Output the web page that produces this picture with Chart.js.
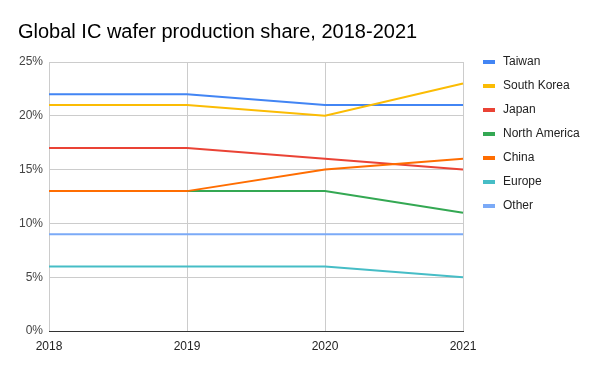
<!DOCTYPE html>
<html><head><meta charset="utf-8">
<script src="https://cdn.jsdelivr.net/npm/chart.js@4/dist/chart.umd.min.js"></script>
<style>html,body{margin:0;padding:0;background:#fff}#wrap{width:600px;height:371px}</style>
</head><body><div id="wrap"><canvas id="c" width="600" height="371"></canvas></div>
<script>
const years = ["2018","2019","2020","2021"];
const seriesNames = ["Taiwan","South Korea","Japan","North America","China","Europe","Other"];
const taiwan = [22,22,21,21];
const southKorea = [21,21,20,23];
const japan = [17,17,16,15];
const northAmerica = [13,13,13,11];
const china = [13,13,15,16];
const europe = [6,6,6,5];
const other = [9,9,9,9];
const seriesValues = [taiwan,southKorea,japan,northAmerica,china,europe,other];
const colors = ["#4285F4","#FBBC04","#EA4335","#34A853","#FF6D01","#46BDC6","#7BAAF7"];
const FONT = "'Liberation Sans', Arial, sans-serif";

const legendPlugin = {
  id:'customLegend',
  afterDraw(chart){
    const ctx = chart.ctx;
    ctx.save();
    ctx.font = "12px " + FONT;
    ctx.textBaseline = 'middle';
    chart.data.datasets.forEach((ds,i)=>{
      const y = 62 + i*24;
      ctx.fillStyle = ds.borderColor;
      ctx.fillRect(483, y-2, 12, 4);
      ctx.fillStyle = '#222';
      ctx.fillText(ds.label, 503, y);
    });
    ctx.restore();
  }
};

new Chart(document.getElementById('c'), {
  type:'line',
  data:{
    labels: years,
    datasets: seriesNames.map((n,i)=>({
      label:n, data:seriesValues[i], borderColor:colors[i], backgroundColor:colors[i],
      borderWidth:2, pointRadius:0, tension:0, order:-i
    }))
  },
  options:{
    responsive:false, animation:false,
    layout:{padding:{left:18,right:137,top:0,bottom:0}},
    plugins:{
      legend:{display:false},
      tooltip:{enabled:false},
      title:{display:true, text:"Global IC wafer production share, 2018-2021", align:'start',
        color:'#000', font:{family:FONT, size:20, weight:'normal'}, padding:{top:20,bottom:18}}
    },
    scales:{
      x:{
        offset:false,
        grid:{color:'#cccccc', drawTicks:false},
        border:{color:'#333333', width:1},
        ticks:{color:'#222', font:{family:FONT,size:12}, padding:8, maxRotation:0},
        afterFit(s){ s.height = 40; }
      },
      y:{
        min:0, max:25,
        grid:{color:'#cccccc', drawTicks:false},
        border:{display:false},
        ticks:{stepSize:5, color:'#444', font:{family:FONT,size:12}, padding:6, callback:v=>v+'%'},
        afterFit(s){ s.width = 31; }
      }
    }
  },
  plugins:[legendPlugin]
});
</script></body></html>
